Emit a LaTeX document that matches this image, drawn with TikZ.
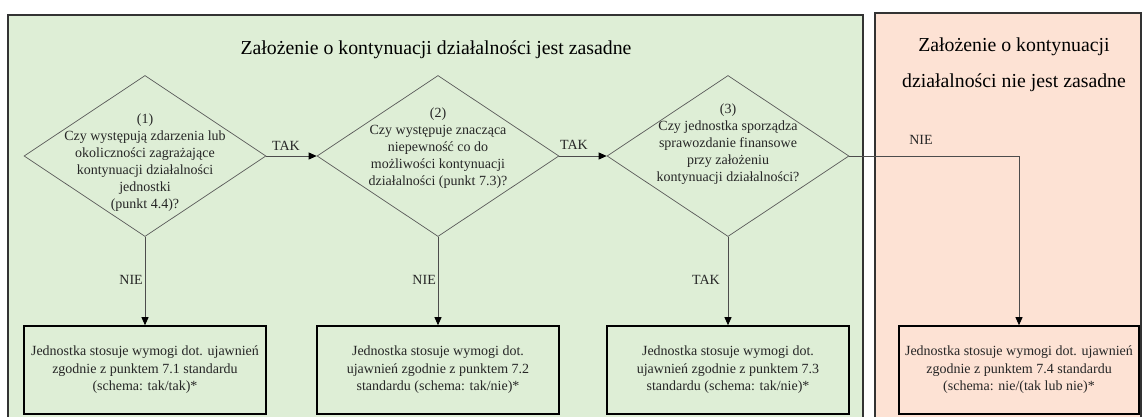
\documentclass[tikz,border=0pt]{standalone}
\usepackage{fontspec}
\setmainfont{Liberation Serif}
\usetikzlibrary{shapes.geometric,arrows.meta}
\definecolor{panelgreen}{RGB}{222,238,214}
\definecolor{panelpink}{RGB}{253,226,212}
\begin{document}
\begin{tikzpicture}[x=1pt,y=-1pt,
  panel/.style={draw=black!80,line width=1.3pt},
  dia/.style={diamond,draw=black!65,line width=0.7pt,minimum width=242pt,minimum height=161pt,inner sep=0pt},
  qtext/.style={align=center,font=\fontsize{14}{17}\selectfont,inner sep=0pt,text=black!85},
  result/.style={draw=black,line width=1.6pt,minimum width=242pt,minimum height=88pt,align=center,font=\fontsize{14}{17.5}\selectfont,inner sep=0pt,text=black!85},
  conn/.style={draw=black!70,line width=0.8pt,-{Triangle[length=8pt,width=7pt,color=black]}},
  lab/.style={font=\fontsize{14}{17}\selectfont,inner sep=0pt,text=black!85},
  ttl/.style={font=\fontsize{19.8}{36}\selectfont,align=center,inner sep=0pt}]
\clip (0,0) rectangle (1142,416);
\fill[white] (0,0) rectangle (1142,416);
% panels
\path[panel,fill=panelgreen] (8,15) rectangle (863,430);
\path[panel,fill=panelpink] (875,13) rectangle (1141,430);
% titles
\node[ttl] (tg) at (436,50) {Założenie o kontynuacji działalności jest zasadne};
\node[ttl] (tp) at (1014,65) {Założenie o kontynuacji\\działalności nie jest zasadne};
% diamonds
\node[dia] (d1) at (145,156) {};
\node[dia] (d2) at (438,156) {};
\node[dia] (d3) at (728,156) {};
\node[qtext] (q1) at (145,163) {(1)\\Czy występują zdarzenia lub\\okoliczności zagrażające\\kontynuacji działalności\\jednostki\\(punkt 4.4)?};
\node[qtext] (q2) at (438,148) {(2)\\Czy występuje znacząca\\niepewność co do\\możliwości kontynuacji\\działalności (punkt 7.3)?};
\node[qtext] (q3) at (728,144.5) {(3)\\Czy jednostka sporządza\\sprawozdanie finansowe\\przy założeniu\\kontynuacji działalności?};
% result boxes
\node[result,fill=panelgreen] (b1) at (145,370) {Jednostka stosuje wymogi dot. ujawnień\\zgodnie z punktem 7.1 standardu\\(schema: tak/tak)*};
\node[result,fill=panelgreen] (b2) at (438,370) {Jednostka stosuje wymogi dot.\\ujawnień zgodnie z punktem 7.2\\standardu (schema: tak/nie)*};
\node[result,fill=panelgreen] (b3) at (728,370) {Jednostka stosuje wymogi dot.\\ujawnień zgodnie z punktem 7.3\\standardu (schema: tak/nie)*};
\node[result,fill=panelpink,minimum width=240pt] (b4) at (1019,370) {Jednostka stosuje wymogi dot. ujawnień\\zgodnie z punktem 7.4 standardu\\(schema: nie/(tak lub nie)*};
% connectors
\draw[conn] (d1.east) -- (d2.west);
\draw[conn] (d2.east) -- (d3.west);
\draw[conn] (d1.south) -- (b1.north);
\draw[conn] (d2.south) -- (b2.north);
\draw[conn] (d3.south) -- (b3.north);
\draw[conn] (d3.east) -| (b4.north);
% labels
\node[lab] (l1) at (286,146) {TAK};
\node[lab] (l2) at (574,145) {TAK};
\node[lab] (l3) at (921,140) {NIE};
\node[lab,anchor=east] (l4) at (143,280) {NIE};
\node[lab,anchor=east] (l5) at (436,280) {NIE};
\node[lab,anchor=east] (l6) at (720,280) {TAK};
\end{tikzpicture}
\end{document}
